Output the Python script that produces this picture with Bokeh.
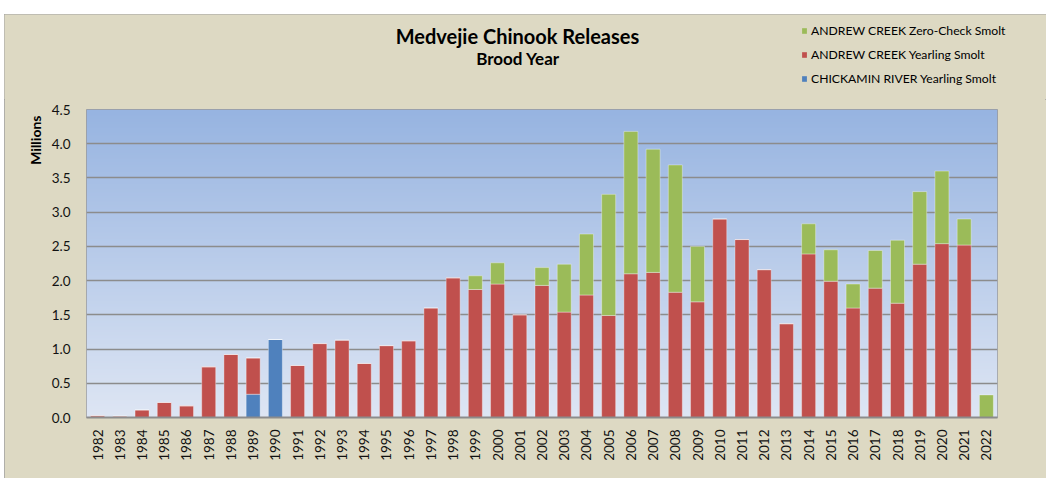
import numpy as np
from math import pi
from bokeh.plotting import figure
from bokeh.layouts import column
from bokeh.models import (FactorRange, FixedTicker, Title, Legend, LegendItem,
                          NumeralTickFormatter, ColumnDataSource, Range1d)
from bokeh.core.properties import value
from bokeh.embed import file_html
from bokeh.resources import INLINE

# ---------------- data ----------------
years = [str(y) for y in range(1982, 2023)]

chickamin_yearling = [0, 0, 0, 0, 0, 0, 0, 0.34, 1.14, 0,
                      0, 0, 0, 0, 0, 0, 0, 0, 0, 0,
                      0, 0, 0, 0, 0, 0, 0, 0, 0, 0,
                      0, 0, 0, 0, 0, 0, 0, 0, 0, 0, 0]

andrew_yearling = [0.025, 0.02, 0.11, 0.22, 0.17, 0.74, 0.92, 0.53, 0.0, 0.76,
                   1.08, 1.13, 0.79, 1.05, 1.12, 1.60, 2.04, 1.87, 1.95, 1.50,
                   1.93, 1.54, 1.79, 1.49, 2.10, 2.12, 1.83, 1.69, 2.90, 2.60,
                   2.16, 1.37, 2.39, 1.99, 1.60, 1.89, 1.67, 2.24, 2.54, 2.52, 0.0]

andrew_zero_check = [0, 0, 0, 0, 0, 0, 0, 0, 0, 0,
                     0, 0, 0, 0, 0, 0, 0, 0.20, 0.31, 0,
                     0.26, 0.70, 0.89, 1.77, 2.08, 1.80, 1.86, 0.81, 0, 0,
                     0, 0, 0.44, 0.46, 0.35, 0.55, 0.92, 1.06, 1.06, 0.38, 0.33]

y_ticks = [0.0, 0.5, 1.0, 1.5, 2.0, 2.5, 3.0, 3.5, 4.0, 4.5]

title_text = "Medvejie Chinook Releases"
subtitle_text = "Brood Year"
y_label = "Millions"
series_names = ["ANDREW CREEK Zero-Check Smolt",
                "ANDREW CREEK Yearling Smolt",
                "CHICKAMIN RIVER Yearling Smolt"]

# ---------------- styles ----------------
BLUE = "#4F81BD"
RED = "#C0504D"
GREEN = "#9BBB59"
BEIGE = "#DDD9C3"
GRID = "#8C8C8C"
FONT = "Lato"

OX, OY = 4, 14            # page offset of the chart box
W = 1042
TOP_H = 85                # header strip (titles + legend)
FRAME_W, FRAME_H = 911, 308
MAIN_H = 379
LEFT = 86 - OX
MAIN_TOP = 109 - OY - TOP_H

# ---------------- header: titles + legend ----------------
head = figure(width=W, height=TOP_H, output_backend="svg", toolbar_location=None,
              x_range=Range1d(0, W), y_range=Range1d(TOP_H, 0),
              x_axis_location=None, y_axis_location=None,
              min_border=0, min_border_left=0, min_border_right=0,
              min_border_top=0, min_border_bottom=0)
head.frame_align = False
head.grid.visible = False
head.outline_line_color = None
head.background_fill_color = BEIGE
head.border_fill_color = BEIGE

head.text(x=[513], y=[21], text=[title_text], text_align="center",
          text_baseline="middle", text_font=value(FONT), text_font_style="bold",
          text_font_size="20px", text_color="#000000")
head.text(x=[513.5], y=[43.5], text=[subtitle_text], text_align="center",
          text_baseline="middle", text_font=value(FONT), text_font_style="bold",
          text_font_size="17px", text_color="#000000")

# legend swatches: stand-in renderers (one NaN row, so nothing is drawn in the strip)
nan = float("nan")
sw = [head.vbar(x=[nan], top=[nan], width=1, fill_color=c, line_color=None)
      for c in (GREEN, RED, BLUE)]
legend = Legend(items=[LegendItem(label=series_names[i], renderers=[sw[i]]) for i in range(3)],
                location=(797, 11))
legend.background_fill_alpha = 0
legend.border_line_color = None
legend.padding = 0
legend.margin = 0
legend.spacing = 4
legend.label_height = 20
legend.glyph_width = 6
legend.glyph_height = 7
legend.label_standoff = 4
legend.label_text_font = FONT
legend.label_text_font_size = "12.2px"
legend.label_text_color = "#000000"
head.add_layout(legend)

# ---------------- main chart ----------------
source = ColumnDataSource(dict(year=years, chick=chickamin_yearling,
                               yearling=andrew_yearling, zero=andrew_zero_check))

p = figure(x_range=FactorRange(factors=years), y_range=(y_ticks[0], y_ticks[-1]),
           width=W, height=MAIN_H, output_backend="svg", toolbar_location=None,
           min_border_left=LEFT, min_border_top=MAIN_TOP,
           min_border_right=W - LEFT - FRAME_W,
           min_border_bottom=MAIN_H - MAIN_TOP - FRAME_H)
p.frame_align = False

p.background_fill_color = "#C5D4EE"
p.border_fill_color = BEIGE
p.outline_line_color = "#9A9A9A"
p.outline_line_width = 1

# vertical gradient in plot area (decoration)
top_rgb = np.array([151, 180, 225])
bot_rgb = np.array([222, 230, 244])
n = 200
t = np.linspace(0, 1, n)[:, None]
cols = (bot_rgb * (1 - t) + top_rgb * t).astype(np.uint8)
img = np.empty((n, 1), dtype=np.uint32)
view = img.view(dtype=np.uint8).reshape((n, 1, 4))
view[:, 0, 0] = cols[:, 0]
view[:, 0, 1] = cols[:, 1]
view[:, 0, 2] = cols[:, 2]
view[:, 0, 3] = 255
bg = p.image_rgba(image=[img], x=0, y=y_ticks[0], dw=len(years), dh=y_ticks[-1] - y_ticks[0])
bg.level = "image"

p.vbar_stack(["chick", "yearling", "zero"], x="year", width=0.63,
             color=[BLUE, RED, GREEN], source=source,
             line_color="white", line_alpha=0.35, line_width=1)

p.xgrid.grid_line_color = None
p.ygrid.grid_line_color = GRID
p.ygrid.grid_line_width = 1.5

p.yaxis.ticker = FixedTicker(ticks=y_ticks)
p.yaxis.formatter = NumeralTickFormatter(format="0.0")
p.yaxis.axis_line_color = None
p.yaxis.major_tick_line_color = None
p.yaxis.minor_tick_line_color = None
p.yaxis.major_label_standoff = 10
p.yaxis.major_label_text_font = FONT
p.yaxis.major_label_text_font_size = "13.5px"
p.yaxis.major_label_text_color = "#111111"

p.xaxis.axis_line_color = GRID
p.xaxis.axis_line_width = 2
p.xaxis.major_tick_line_color = None
p.xaxis.minor_tick_line_color = None
p.xaxis.major_label_orientation = pi / 2
p.xaxis.major_label_standoff = 6
p.xaxis.major_label_text_font = FONT
p.xaxis.major_label_text_font_size = "13.5px"
p.xaxis.major_label_text_color = "#111111"

p.add_layout(Title(text=y_label, align="right", offset=6,
                   text_font=FONT, text_font_style="bold", text_font_size="14px",
                   text_color="#000000"), "left")

layout = column(head, p, spacing=0,
                styles={"margin-left": f"{OX}px", "margin-top": f"{OY}px",
                        "background-color": BEIGE,
                        "outline": "1px solid #A0A0A0", "outline-offset": "-1px"})

open("out.html", "w").write(file_html(layout, INLINE))
